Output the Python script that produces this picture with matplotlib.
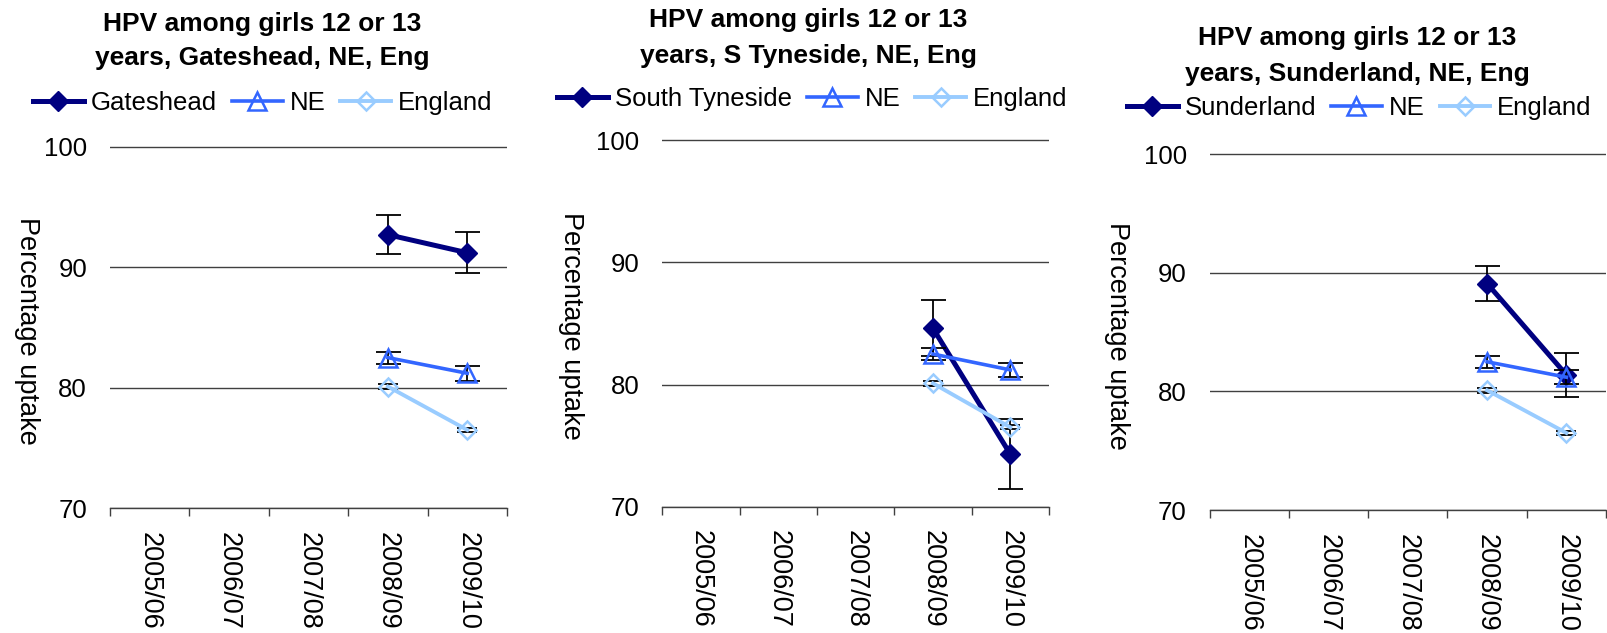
import numpy as np
import matplotlib
matplotlib.use("Agg")
import matplotlib.pyplot as plt
from matplotlib.ticker import FixedLocator, NullFormatter

plt.rcParams['font.family'] = ['Liberation Sans', 'DejaVu Sans']

# ---- data -------------------------------------------------------------
years = ['2005/06', '2006/07', '2007/08', '2008/09', '2009/10']
nan = np.nan

gateshead = [nan, nan, nan, 92.7, 91.2]
gateshead_err = [nan, nan, nan, 1.6, 1.7]
south_tyneside = [nan, nan, nan, 84.6, 74.3]
south_tyneside_err = [nan, nan, nan, 2.3, 2.85]
sunderland = [nan, nan, nan, 89.1, 81.4]
sunderland_err = [nan, nan, nan, 1.5, 1.85]

north_east = [nan, nan, nan, 82.5, 81.2]
north_east_err = [nan, nan, nan, 0.5, 0.6]
england = [nan, nan, nan, 80.1, 76.5]
england_err = [nan, nan, nan, 0.2, 0.15]

titles = [
    ('HPV among girls 12 or 13', 'years, Gateshead, NE, Eng'),
    ('HPV among girls 12 or 13', 'years, S Tyneside, NE, Eng'),
    ('HPV among girls 12 or 13', 'years, Sunderland, NE, Eng'),
]
local_names = ['Gateshead', 'South Tyneside', 'Sunderland']
local_values = [gateshead, south_tyneside, sunderland]
local_errors = [gateshead_err, south_tyneside_err, sunderland_err]
y_label = 'Percentage uptake'
y_ticks = [70, 80, 90, 100]

# ---- styling ------------------------------------------------------------
W, H = 1607, 633
PT = 100 / 72.0          # pixels per point at dpi 100
NAVY, MID, LIGHT = '#000080', '#3366FF', '#99CCFF'
GRID = '#404040'
FS_TITLE, FS_LEG, FS_YTICK, FS_XTICK, FS_YLAB = 19, 18.5, 18.5, 19.5, 19.5

# pixel geometry of each panel: left, right, y of 100 line, y of 70 line
panels = [
    dict(left=110, right=507, top=146.7, bottom=508.3,
         title_x=262, title_y=(30.5, 65.0),
         leg_x=33, leg_y=103.3, ylab=(26.5, 331)),
    dict(left=662.3, right=1049, top=140.3, bottom=506.7,
         title_x=808, title_y=(27.3, 63.3),
         leg_x=557, leg_y=99, ylab=(571, 326)),
    dict(left=1209.7, right=1606, top=154.3, bottom=510,
         title_x=1357.5, title_y=(45.0, 81.0),
         leg_x=1126.7, leg_y=108.3, ylab=(1117.5, 336)),
]

fig = plt.figure(figsize=(W / 100, H / 100), dpi=100)
x = np.arange(len(years))
ymax = 101.0

for p, name, vals, errs, (t1, t2) in zip(panels, local_names, local_values,
                                         local_errors, titles):
    ppu = (p['bottom'] - p['top']) / 30.0
    top_px = p['bottom'] - (ymax - 70) * ppu
    ax = fig.add_axes([p['left'] / W, 1 - p['bottom'] / H,
                       (p['right'] - p['left']) / W, (p['bottom'] - top_px) / H])
    ax.set_xlim(-0.5, len(years) - 0.5)
    ax.set_ylim(70, ymax)

    # error bars and series, drawn in series order
    ax.errorbar(x, vals, yerr=errs, fmt='none', ecolor='black', elinewidth=1.3,
                capsize=9, capthick=1.3, zorder=2.0)
    h1, = ax.plot(x, vals, color=NAVY, lw=3.6, marker='D', ms=10.5,
                  mfc=NAVY, mec=NAVY, zorder=2.1, label=name)
    ax.errorbar(x, north_east, yerr=north_east_err, fmt='none', ecolor='black',
                elinewidth=1.3, capsize=9, capthick=1.3, zorder=2.2)
    h2, = ax.plot(x, north_east, color=MID, lw=2.6, marker='^', ms=13,
                  mfc='none', mec=MID, mew=1.8, zorder=2.3, label='NE')
    ax.errorbar(x, england, yerr=england_err, fmt='none', ecolor='black',
                elinewidth=1.3, capsize=7, capthick=1.3, zorder=2.4)
    h3, = ax.plot(x, england, color=LIGHT, lw=2.8, marker='D', ms=9,
                  mfc='none', mec=LIGHT, mew=1.8, zorder=2.5, label='England')

    # axes furniture
    for s in ('left', 'right', 'top'):
        ax.spines[s].set_visible(False)
    ax.spines['bottom'].set_color(GRID)
    ax.spines['bottom'].set_linewidth(1.0)
    ax.set_yticks(y_ticks)
    ax.yaxis.grid(True, color=GRID, lw=1.0)
    ax.set_axisbelow(True)
    ax.tick_params(axis='y', length=0, pad=23 / PT, labelsize=FS_YTICK)

    ax.set_xticks(x)
    ax.set_xticklabels(years, rotation=270, fontsize=FS_XTICK)
    ax.xaxis.set_minor_locator(FixedLocator(np.arange(-0.5, len(years), 1.0)))
    ax.xaxis.set_minor_formatter(NullFormatter())
    ax.tick_params(axis='x', which='major', length=0, pad=23.5 / PT)
    ax.tick_params(axis='x', which='minor', length=8 / PT, width=1.0,
                   color=GRID, direction='out')

    # title, two lines
    for line, yb in zip((t1, t2), p['title_y']):
        fig.text(p['title_x'] / W, 1 - yb / H, line, ha='center',
                 va='baseline', fontsize=FS_TITLE, fontweight='bold')

    # legend
    ax.legend(handles=[h1, h2, h3], loc='center left', ncol=3,
              bbox_to_anchor=(p['leg_x'] / W, 1 - p['leg_y'] / H),
              bbox_transform=fig.transFigure, frameon=False, borderpad=0,
              borderaxespad=0, handlelength=1.98, handletextpad=0.27,
              columnspacing=0.58, fontsize=FS_LEG)

    # y axis title
    fig.text(p['ylab'][0] / W, 1 - p['ylab'][1] / H, y_label, rotation=270,
             ha='center', va='center', fontsize=FS_YLAB)

fig.savefig('out.png', dpi=100)
